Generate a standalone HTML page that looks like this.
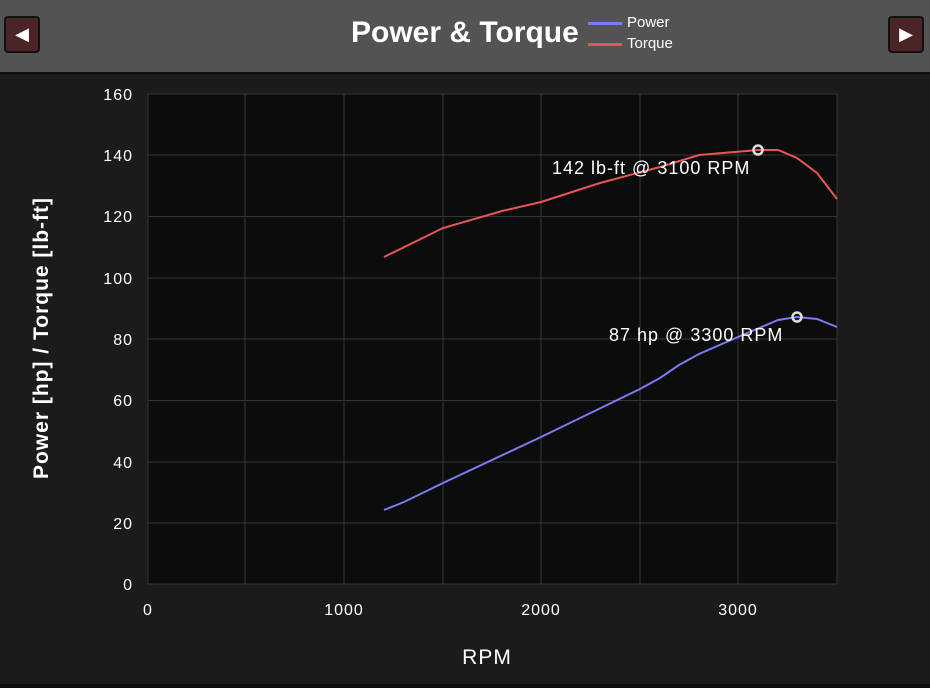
<!DOCTYPE html>
<html><head><meta charset="utf-8"><style>
body{margin:0;width:930px;height:688px;background:#1c1a1b;overflow:hidden;font-family:"Liberation Sans",sans-serif}
.hdr{position:absolute;left:0;top:0;width:930px;height:72px;background:#545354;border-bottom:2px solid #0e0e0e}
.btn{position:absolute;top:16px;width:32px;height:33px;background:#4a2426;border:2px solid #111;border-radius:4px;color:#fff;font-size:18px;line-height:33px;text-align:center}
</style></head><body>
<div class="hdr">
<div class="btn" style="left:4px">◀</div>
<div class="btn" style="left:888px">▶</div>
<div style="position:absolute;left:351px;top:16px;color:#fff;font-size:30px;font-weight:bold;letter-spacing:0px">Power &amp; Torque</div>
<div style="position:absolute;left:588px;top:22px;width:34px;height:3px;background:#7b7bf5"></div>
<div style="position:absolute;left:588px;top:43px;width:34px;height:3px;background:#e85555"></div>
<div style="position:absolute;left:627px;top:14px;color:#fff;font-size:15px">Power</div>
<div style="position:absolute;left:627px;top:35px;color:#fff;font-size:15px">Torque</div>
</div>
<div style="position:absolute;left:0;top:684px;width:930px;height:4px;background:#0e0e0e"></div>
<svg width="930" height="688" style="position:absolute;left:0;top:0">
<rect x="148" y="94" width="689" height="490" fill="#0c0c0c"/>
<g stroke="#363636" stroke-width="1">
<line x1="148" y1="94" x2="837" y2="94"/><line x1="148" y1="155" x2="837" y2="155"/><line x1="148" y1="216.5" x2="837" y2="216.5"/><line x1="148" y1="278" x2="837" y2="278"/><line x1="148" y1="339" x2="837" y2="339"/><line x1="148" y1="400.5" x2="837" y2="400.5"/><line x1="148" y1="462" x2="837" y2="462"/><line x1="148" y1="523" x2="837" y2="523"/><line x1="148" y1="584" x2="837" y2="584"/>
<line x1="148" y1="94" x2="148" y2="584"/><line x1="245" y1="94" x2="245" y2="584"/><line x1="344" y1="94" x2="344" y2="584"/><line x1="443" y1="94" x2="443" y2="584"/><line x1="541" y1="94" x2="541" y2="584"/><line x1="640" y1="94" x2="640" y2="584"/><line x1="738" y1="94" x2="738" y2="584"/><line x1="837" y1="94" x2="837" y2="584"/>
</g>
<g fill="#fff" font-size="16" text-anchor="end" letter-spacing="1">
<text x="133" y="100">160</text><text x="133" y="161">140</text><text x="133" y="222">120</text><text x="133" y="284">100</text><text x="133" y="345">80</text><text x="133" y="406">60</text><text x="133" y="468">40</text><text x="133" y="529">20</text><text x="133" y="590">0</text>
</g>
<g fill="#fff" font-size="16" text-anchor="middle" letter-spacing="1">
<text x="148" y="615">0</text><text x="344" y="615">1000</text><text x="541" y="615">2000</text><text x="738" y="615">3000</text>
<text x="487" y="664" font-size="21">RPM</text>
<text transform="translate(48,338) rotate(-90)" font-size="21" font-weight="bold">Power [hp] / Torque [lb-ft]</text>
</g>
<polyline fill="none" stroke="#e85555" stroke-width="2" points="384,257 443,228 502,211 541,202 600,183 660,167 699,155 758,150 778,150 797,158 817,173 837,199"/>
<polyline fill="none" stroke="#7b7bf5" stroke-width="2" points="384,510 404,502 443,483 541,437 640,389 660,378 679,365 699,354 738,337 778,320 797,317 817,319 837,327"/>
<circle cx="758" cy="150" r="4.5" fill="none" stroke="#ddd" stroke-width="2.5"/>
<circle cx="797" cy="317" r="4.5" fill="none" stroke="#ddd" stroke-width="2.5"/>
<g fill="#fff" font-size="18" letter-spacing="1"><text x="552" y="174">142 lb-ft @ 3100 RPM</text><text x="609" y="341">87 hp @ 3300 RPM</text></g>
</svg>
</body></html>
